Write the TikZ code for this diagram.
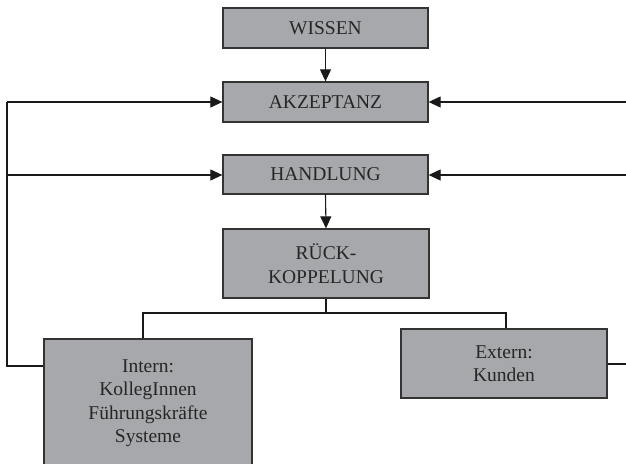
\documentclass[tikz,border=0pt]{standalone}
\usepackage{fontspec}
\setmainfont{Liberation Serif}
\usetikzlibrary{arrows.meta}
\definecolor{boxgray}{HTML}{A7A8AB}
\definecolor{edgegray}{HTML}{333333}
\begin{document}
\begin{tikzpicture}[x=1pt,y=-1pt,
  stepbox/.style={draw=edgegray,fill=boxgray,line width=1.3pt,inner sep=0pt,align=center,
    font=\fontsize{19.5}{23.5}\selectfont,text=black!85},
  conn/.style={line width=1.1pt,draw=black!90},
  arr/.style={conn,-{Triangle[length=12pt,width=11pt]}}]
\useasboundingbox (0,0) rectangle (626,463);
\begin{scope}
\clip (0,0) rectangle (626,463);
\node[stepbox,minimum width=205pt,minimum height=40pt] (wissen) at (325.5,28) {WISSEN};
\node[stepbox,minimum width=205pt,minimum height=40pt] (akz) at (325.5,102) {AKZEPTANZ};
\node[stepbox,minimum width=205pt,minimum height=39pt] (hand) at (325.5,174.5) {HANDLUNG};
\node[stepbox,minimum width=206pt,minimum height=69pt] (rueck) at (326,263.5) {RÜCK-\\KOPPELUNG};
\node[stepbox,minimum width=208pt,minimum height=128pt] (intern) at (148,403) {Intern:\\KollegInnen\\Führungskräfte\\Systeme};
\node[stepbox,minimum width=206pt,minimum height=69pt] (extern) at (504,363.5) {Extern:\\Kunden};

\coordinate (lefttop) at (7,102);
\coordinate (leftmid) at (7,175);
\coordinate (leftbot) at (7,366);
\coordinate (righttop) at (626,102);
\coordinate (rightmid) at (626,175);
\coordinate (rightbot) at (626,364);
\coordinate (split) at (rueck.south |- 0,313);
\coordinate (splitl) at (143,313);
\coordinate (splitr) at (506,313);

\draw[arr] (wissen.south) -- (akz.north);
\draw[arr] (hand.south) -- (rueck.north);
\draw[conn] (rueck.south) -- (split);
\draw[conn] (intern.north -| splitl) -- (splitl) -- (splitr) -- (extern.north -| splitr);

\draw[conn] (intern.west |- leftbot) -- (leftbot) -- (lefttop);
\draw[arr] (lefttop) -- (akz.west);
\draw[arr] (leftmid) -- (hand.west |- leftmid);
\draw[arr] (righttop) -- (akz.east);
\draw[arr] (rightmid) -- (hand.east |- rightmid);
\draw[conn] (extern.east |- rightbot) -- (rightbot);
\end{scope}
\end{tikzpicture}
\end{document}
